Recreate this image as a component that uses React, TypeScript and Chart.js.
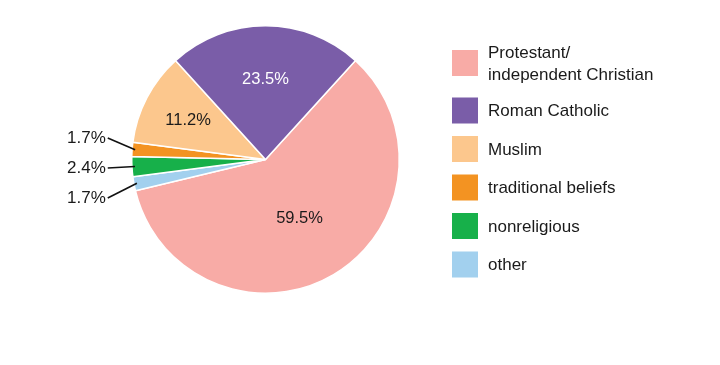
import React, { useEffect, useRef } from "react";
import { Chart, registerables } from "chart.js";

Chart.register(...registerables);

// ---- data ----
const categories = [
  "Protestant/\nindependent Christian",
  "Roman Catholic",
  "Muslim",
  "traditional beliefs",
  "nonreligious",
  "other",
];
const shares = [59.5, 23.5, 11.2, 1.7, 2.4, 1.7];
const colors = ["#F8ABA6", "#7A5DA8", "#FCC78D", "#F39322", "#17B04A", "#A2D0EE"];
// order in which slices are laid clockwise
const sliceOrder = [0, 5, 4, 3, 2, 1];
const insideTextColors = ["#1a1a1a", "#ffffff", "#1a1a1a", "#1a1a1a", "#1a1a1a", "#1a1a1a"];

const FONT = "'Liberation Sans', Arial, Helvetica, sans-serif";
const INSIDE_MIN_SHARE = 5;

const fmt = (v: number) => `${v.toFixed(1)}%`;

const labelPlugin = {
  id: "pieLabels",
  afterDatasetsDraw(chart: any) {
    const ctx = chart.ctx;
    const meta = chart.getDatasetMeta(0);
    const outside: { ax: number; ay: number; text: string }[] = [];
    let cx = 0, R = 0;
    const yNudge = 1.5;
    ctx.save();
    meta.data.forEach((arc: any, i: number) => {
      const p = arc.getProps(["x", "y", "startAngle", "endAngle", "outerRadius"], true);
      cx = p.x; R = p.outerRadius;
      const cat = sliceOrder[i];
      const v = shares[cat];
      const theta = p.endAngle - p.startAngle;
      const mid = (p.startAngle + p.endAngle) / 2;
      if (v >= INSIDE_MIN_SHARE) {
        const centroid = (4 * R * Math.sin(theta / 2)) / (3 * theta);
        const r = Math.max(centroid, 0.5 * R);
        ctx.font = `16.5px ${FONT}`;
        ctx.fillStyle = insideTextColors[cat];
        ctx.textAlign = "center";
        ctx.textBaseline = "middle";
        ctx.fillText(fmt(v), p.x + r * Math.cos(mid), p.y + r * Math.sin(mid) + yNudge);
      } else {
        const r = R - 3;
        outside.push({ ax: p.x + r * Math.cos(mid), ay: p.y + r * Math.sin(mid), text: fmt(v) });
      }
    });
    // outside labels, stacked left of the pie
    outside.sort((a, b) => a.ay - b.ay);
    const meanY = outside.reduce((s, o) => s + o.ay, 0) / Math.max(outside.length, 1);
    const step = 30;
    const textRight = cx - R - 26;
    outside.forEach((o, k) => {
      const ly = meanY + (k - (outside.length - 1) / 2) * step + yNudge;
      ctx.strokeStyle = "#111";
      ctx.lineWidth = 1.6;
      ctx.beginPath();
      ctx.moveTo(textRight + 2, ly);
      ctx.lineTo(o.ax, o.ay);
      ctx.stroke();
      ctx.font = `17px ${FONT}`;
      ctx.fillStyle = "#1a1a1a";
      ctx.textAlign = "right";
      ctx.textBaseline = "middle";
      ctx.fillText(o.text, textRight, ly + 0.5);
    });
    // legend
    const boxX = 452, boxSize = 26, textX = 488, lineH = 22, gap = 12.5;
    let y = 41;
    ctx.font = `17px ${FONT}`;
    ctx.textAlign = "left";
    ctx.textBaseline = "middle";
    categories.forEach((c, i) => {
      const lines = c.split("\n");
      const h = Math.max(boxSize, lines.length * lineH);
      const centerY = y + h / 2;
      ctx.fillStyle = colors[i];
      ctx.fillRect(boxX, centerY - boxSize / 2, boxSize, boxSize);
      ctx.fillStyle = "#1a1a1a";
      lines.forEach((ln, k) => {
        ctx.fillText(ln, textX, centerY + (k - (lines.length - 1) / 2) * lineH + 1);
      });
      y += h + gap;
    });
    ctx.restore();
  },
};

export default function App() {
  const ref = useRef<HTMLCanvasElement | null>(null);
  useEffect(() => {
    if (!ref.current) return;
    const total = shares.reduce((a, b) => a + b, 0);
    const last = sliceOrder[sliceOrder.length - 1];
    const rotation = ((shares[last] / 2) / total) * 360;
    const chart = new Chart(ref.current, {
      type: "pie",
      data: {
        labels: sliceOrder.map((i) => categories[i].replace("\n", " ")),
        datasets: [
          {
            data: sliceOrder.map((i) => shares[i]),
            backgroundColor: sliceOrder.map((i) => colors[i]),
            borderColor: "#ffffff",
            borderWidth: 1.5,
          },
        ],
      },
      options: {
        animation: false,
        responsive: false,
        rotation,
        layout: { padding: { left: 131, right: 320, top: 25, bottom: 71 } },
        plugins: {
          legend: { display: false },
          tooltip: { enabled: false },
        },
      },
      plugins: [labelPlugin],
    });
    return () => chart.destroy();
  }, []);
  return (
    <div style={{ position: "absolute", left: 0, top: 0, width: 720, height: 365, background: "#fff" }}>
      <canvas ref={ref} width={720} height={365} />
    </div>
  );
}
